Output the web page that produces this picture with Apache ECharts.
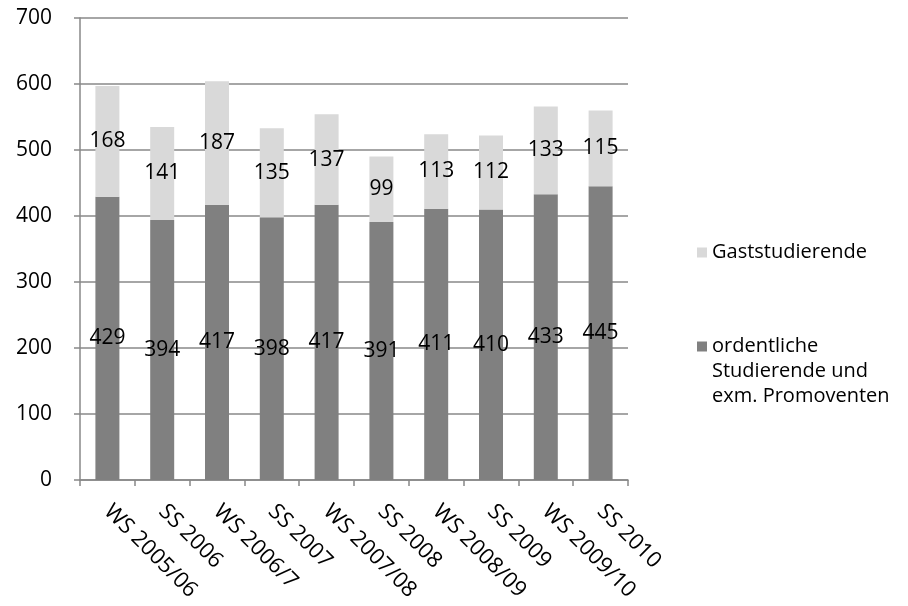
<!DOCTYPE html>
<html>
<head>
<meta charset="utf-8">
<script src="https://cdn.jsdelivr.net/npm/echarts@6/dist/echarts.min.js"></script>
<style>
html,body{margin:0;padding:0;background:#fff;}
#chart{width:908px;height:606px;}
</style>
</head>
<body>
<div id="chart"></div>
<script>
const categories = ['WS 2005/06','SS 2006','WS 2006/7','SS 2007','WS 2007/08','SS 2008','WS 2008/09','SS 2009','WS 2009/10','SS 2010'];
const ordentliche = [429, 394, 417, 398, 417, 391, 411, 410, 433, 445];
const gast = [168, 141, 187, 135, 137, 99, 113, 112, 133, 115];
const seriesNames = ['ordentliche Studierende und exm. Promoventen', 'Gaststudierende'];
const yTicks = {min: 0, max: 700, interval: 100};

const FONT = '"Open Sans", sans-serif';
const chart = echarts.init(document.getElementById('chart'), null, {renderer: 'canvas'});
chart.setOption({
  animation: false,
  backgroundColor: '#ffffff',
  textStyle: {fontFamily: FONT},
  grid: {left: 80, right: 280, top: 18, bottom: 126, containLabel: false},
  legend: {
    orient: 'vertical',
    left: 692,
    top: 235,
    itemWidth: 10,
    itemHeight: 10,
    itemGap: 19,
    icon: 'rect',
    textStyle: {fontFamily: FONT, fontSize: 20, color: '#000', lineHeight: 25},
    data: [seriesNames[1], seriesNames[0]],
    formatter: function (n) {
      return n === seriesNames[0] ? '\n\nordentliche\nStudierende und\nexm. Promoventen' : n;
    }
  },
  xAxis: {
    type: 'category',
    data: categories,
    axisLine: {show: true, lineStyle: {color: '#888', width: 1.5}},
    axisTick: {show: true, length: 6, lineStyle: {color: '#888', width: 1.5}},
    axisLabel: {rotate: -45, margin: 28, fontFamily: FONT, fontSize: 22, color: '#000', interval: 0},
    splitLine: {show: false}
  },
  yAxis: {
    type: 'value',
    min: yTicks.min, max: yTicks.max, interval: yTicks.interval,
    axisLine: {show: true, lineStyle: {color: '#888', width: 1.5}},
    axisTick: {show: true, length: 6, lineStyle: {color: '#888', width: 1.5}},
    axisLabel: {margin: 28, fontFamily: FONT, fontSize: 21, color: '#000'},
    splitLine: {show: true, lineStyle: {color: '#888', width: 1.5}}
  },
  series: [
    {
      name: seriesNames[0], type: 'bar', stack: 'total', data: ordentliche,
      barWidth: 24,
      itemStyle: {color: '#808080'},
      label: {show: true, position: 'inside', color: '#000', fontFamily: FONT, fontSize: 21}
    },
    {
      name: seriesNames[1], type: 'bar', stack: 'total', data: gast,
      barWidth: 24,
      itemStyle: {color: '#d9d9d9'},
      label: {show: true, position: 'inside', color: '#000', fontFamily: FONT, fontSize: 21}
    }
  ]
});
</script>
</body>
</html>
